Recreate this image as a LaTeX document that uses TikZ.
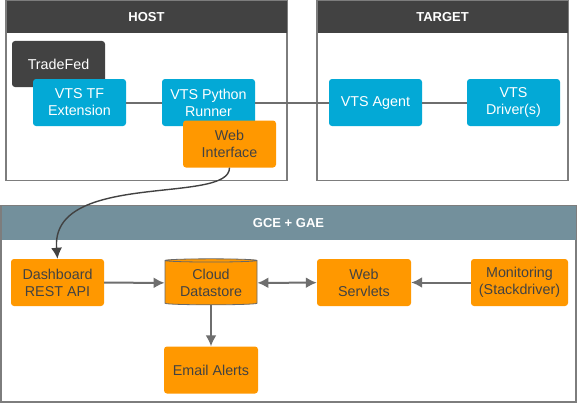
\documentclass[tikz,border=0pt]{standalone}
\usepackage{fontspec}
\setmainfont{Liberation Sans}
\usepackage{tikz}
\usepackage{xcolor}
\usetikzlibrary{shapes.geometric,arrows.meta}

\definecolor{darkbox}{HTML}{424242}
\definecolor{bluebox}{HTML}{03A9D6}
\definecolor{orangebox}{HTML}{FF9800}
\definecolor{slatehead}{HTML}{73909C}
\definecolor{wire}{HTML}{6E6E6E}

\begin{document}
\begin{tikzpicture}[x=1pt, y=-1pt,
    every node/.style={font=\fontsize{14.3}{17}\selectfont, align=center},
    frame/.style={draw=wire!90, line width=1.2pt, fill=white},
    head/.style={font=\fontsize{13}{15}\selectfont\bfseries, text=white},
    blk/.style={rounded corners=3pt, minimum width=93pt, minimum height=47pt},
    blue/.style={blk, fill=bluebox, text=white},
    orange/.style={blk, fill=orangebox, text=darkbox},
    wire/.style={draw=wire, line width=2pt},
    arrow/.style={wire, -{Latex[length=11pt,width=11pt]}, color=wire}]
    \useasboundingbox (0,0) rectangle (577,404);
    % Host box
    \node[frame, minimum width=281pt, minimum height=180pt] (host) at (146.5,90.5) {};
    \node[head, fill=darkbox, minimum width=280pt, minimum height=32pt] (hosthead) at (146.5,17) {HOST};
    % Target box
    \node[frame, minimum width=251pt, minimum height=180pt] (target) at (442.5,90.5) {};
    \node[head, fill=darkbox, minimum width=250pt, minimum height=32pt] (targethead) at (442.5,17) {TARGET};
    % Cloud box
    \node[frame, minimum width=575pt, minimum height=196pt] (gce) at (288.5,304) {};
    \node[head, fill=slatehead, minimum width=574pt, minimum height=34pt] (gcehead) at (288.5,223) {GCE + GAE};

    % Host nodes
    \node[blk, fill=darkbox, text=white, minimum height=46pt] (tradefed) at (58.5,64) {TradeFed};
    \node[blue] (tfext) at (79.5,102.5) {VTS TF\\Extension};
    \node[blue] (runner) at (208.5,102.5) {VTS Python\\Runner};
    \node[orange] (web) at (229.5,144) {Web\\Interface};
    % Target nodes
    \node[blue] (agent) at (375.5,102.5) {VTS Agent};
    \node[blue] (driver) at (513.5,102.5) {VTS\\Driver(s)};
    % Cloud nodes
    \node[orange] (dash) at (57.5,282.5) {Dashboard\\REST API};
    \node[cylinder, shape border rotate=90, aspect=0.05, draw=darkbox!80, line width=0.8pt,
        fill=orangebox, text=darkbox, minimum width=92pt, minimum height=46pt, inner sep=1pt] (store) at (211,283) {Cloud\\Datastore};
    \node[orange, minimum width=94pt] (mail) at (211,370) {Email Alerts};
    \node[orange, minimum width=94pt] (servlet) at (364,282.5) {Web\\Servlets};
    \node[orange, minimum width=97pt] (monitor) at (519.5,282.5) {Monitoring\\(Stackdriver)};

    % Links
    \draw[wire] (tfext) -- (runner);
    \draw[wire] (runner) -- (agent);
    \draw[wire] (agent) -- (driver);
    \draw[arrow, line width=1.4pt, color=darkbox] (web.south) .. controls (230,205) and (50,170) .. (dash.north);
    \draw[arrow] (dash) -- (store);
    \draw[arrow, {Latex[length=11pt,width=11pt]}-{Latex[length=11pt,width=11pt]}] (store) -- (servlet);
    \draw[arrow] (monitor) -- (servlet);
    \draw[arrow] (store) -- (mail);
\end{tikzpicture}
\end{document}
